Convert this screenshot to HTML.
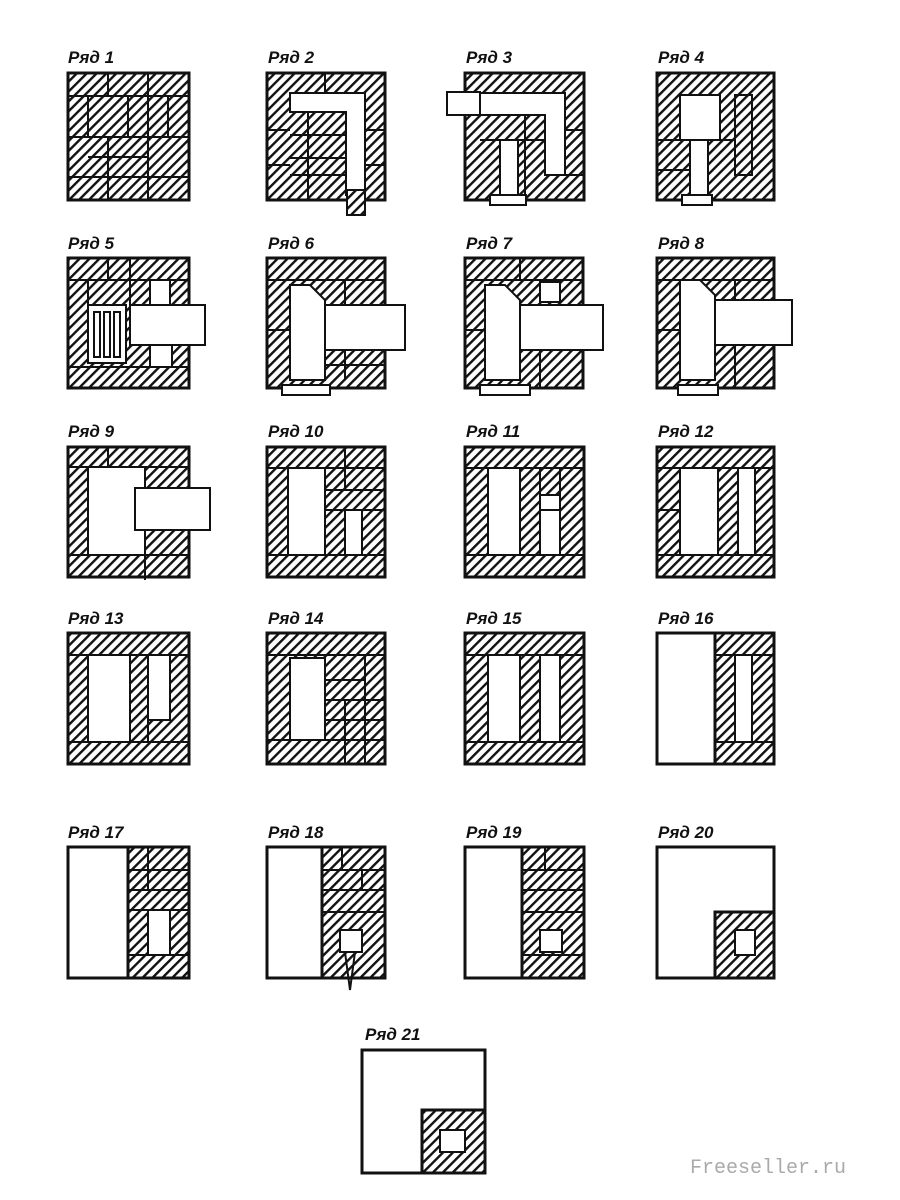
<!DOCTYPE html>
<html><head><meta charset="utf-8"><style>
html,body{margin:0;padding:0;background:#fff;}
svg{display:block}
text{font-family:"Liberation Sans",sans-serif;font-style:italic;font-weight:bold;font-size:17px;fill:#111}
</style></head><body>
<svg width="900" height="1200" viewBox="0 0 900 1200" xmlns="http://www.w3.org/2000/svg">
<defs>
<pattern id="h" patternUnits="userSpaceOnUse" width="7" height="7" patternTransform="rotate(45)">
<rect width="7" height="7" fill="#fff"/><rect x="0" y="0" width="2.4" height="7" fill="#111"/>
</pattern>
</defs>
<g stroke="#111" stroke-width="2">
<!-- Row 1 -->
<rect x="68" y="73" width="121" height="127" fill="url(#h)" stroke-width="3"/>
<path d="M68 96H189M68 137H189M68 177H189M108 73V96M148 73V200M88 96V137M128 96V137M168 96V137M108 137V177M88 157H148M108 177V200" fill="none"/>
<rect x="267" y="73" width="118" height="127" fill="url(#h)" stroke-width="3"/>
<path d="M290 93H365V195H346V112H290Z" fill="#fff"/>
<rect x="347" y="190" width="18" height="25" fill="url(#h)"/>
<path d="M290 135H346M290 158H346M290 175H346M308 112V200M325 93V73M365 93V200M365 130H385M365 165H385M267 130H290M267 165H290" fill="none"/>
<rect x="465" y="73" width="119" height="127" fill="url(#h)" stroke-width="3"/>
<path d="M470 93H565V175H545V115H470Z" fill="#fff"/>
<rect x="447" y="92" width="33" height="23" fill="#fff"/>
<rect x="500" y="140" width="18" height="55" fill="#fff"/>
<rect x="490" y="195" width="36" height="10" fill="#fff"/>
<path d="M480 140H545M525 115V195M565 130H584M545 175H584" fill="none"/>
<rect x="657" y="73" width="117" height="127" fill="url(#h)" stroke-width="3"/>
<rect x="680" y="95" width="40" height="45" fill="#fff"/>
<rect x="690" y="140" width="18" height="55" fill="#fff"/>
<rect x="682" y="195" width="30" height="10" fill="#fff"/>
<path d="M735 95V175H752V95ZM657 140H690M708 140H735M657 170H690" fill="none"/>
<!-- Row 2 -->
<rect x="68" y="258" width="121" height="130" fill="url(#h)" stroke-width="3"/>
<rect x="130" y="305" width="75" height="40" fill="#fff"/>
<rect x="150" y="280" width="20" height="25" fill="#fff"/>
<rect x="150" y="345" width="22" height="22" fill="#fff"/>
<rect x="88" y="305" width="38" height="58" fill="#fff"/>
<path d="M94 312V357H100V312ZM104 312V357H110V312ZM114 312V357H120V312Z" fill="none"/>
<path d="M68 280H189M68 367H189M108 258V280M130 258V305M88 280V305" fill="none"/>
<rect x="267" y="258" width="118" height="130" fill="url(#h)" stroke-width="3"/>
<path d="M290 285H310L325 300V380H290Z" fill="#fff"/>
<rect x="325" y="305" width="80" height="45" fill="#fff"/>
<rect x="282" y="385" width="48" height="10" fill="#fff"/>
<path d="M267 280H385M345 280V305M345 350V380M325 365H385M267 330H290" fill="none"/>
<rect x="465" y="258" width="118" height="130" fill="url(#h)" stroke-width="3"/>
<path d="M485 285H505L520 300V380H485Z" fill="#fff"/>
<rect x="520" y="305" width="83" height="45" fill="#fff"/>
<rect x="540" y="282" width="20" height="20" fill="#fff"/>
<rect x="480" y="385" width="50" height="10" fill="#fff"/>
<path d="M465 280H583M520 280V258M540 350V388M465 330H485" fill="none"/>
<rect x="657" y="258" width="117" height="130" fill="url(#h)" stroke-width="3"/>
<path d="M680 280H700L715 295V380H680Z" fill="#fff"/>
<rect x="715" y="300" width="77" height="45" fill="#fff"/>
<rect x="678" y="385" width="40" height="10" fill="#fff"/>
<path d="M657 280H774M735 280V300M735 345V388M657 330H680" fill="none"/>
<!-- Row 3 -->
<rect x="68" y="447" width="121" height="130" fill="url(#h)" stroke-width="3"/>
<rect x="88" y="467" width="57" height="88" fill="#fff"/>
<rect x="135" y="488" width="75" height="42" fill="#fff"/>
<path d="M145 530V580M68 467H189M68 555H189M108 447V467" fill="none"/>
<rect x="267" y="447" width="118" height="130" fill="url(#h)" stroke-width="3"/>
<rect x="288" y="468" width="37" height="87" fill="#fff"/>
<rect x="345" y="510" width="17" height="45" fill="#fff"/>
<path d="M267 468H385M325 490H385M325 510H385M267 555H385M345 447V490" fill="none"/>
<rect x="465" y="447" width="119" height="130" fill="url(#h)" stroke-width="3"/>
<rect x="488" y="468" width="32" height="87" fill="#fff"/>
<rect x="540" y="495" width="20" height="60" fill="#fff"/>
<path d="M465 468H584M465 555H584M540 468V495M560 468V555M540 510H560" fill="none"/>
<rect x="657" y="447" width="117" height="130" fill="url(#h)" stroke-width="3"/>
<rect x="680" y="468" width="38" height="87" fill="#fff"/>
<rect x="738" y="468" width="17" height="87" fill="#fff"/>
<path d="M657 468H774M657 555H774M657 510H680" fill="none"/>
<!-- Row 4 -->
<rect x="68" y="633" width="121" height="131" fill="url(#h)" stroke-width="3"/>
<rect x="88" y="655" width="42" height="87" fill="#fff"/>
<rect x="148" y="655" width="22" height="65" fill="#fff"/>
<path d="M68 655H189M68 742H189M148 720V742" fill="none"/>
<rect x="267" y="633" width="118" height="131" fill="url(#h)" stroke-width="3"/>
<rect x="290" y="658" width="35" height="82" fill="#fff"/>
<path d="M267 655H385M325 680H365M325 700H385M325 720H385M267 740H385M345 700V764M365 655V764" fill="none"/>
<rect x="465" y="633" width="119" height="131" fill="url(#h)" stroke-width="3"/>
<rect x="488" y="655" width="32" height="87" fill="#fff"/>
<rect x="540" y="655" width="20" height="87" fill="#fff"/>
<path d="M465 655H584M465 742H584" fill="none"/>
<rect x="657" y="633" width="117" height="131" fill="url(#h)" stroke-width="3"/>
<rect x="657" y="633" width="58" height="131" fill="#fff" stroke-width="3"/>
<rect x="735" y="655" width="17" height="87" fill="#fff"/>
<path d="M715 655H774M715 742H774" fill="none"/>
<!-- Row 5 -->
<rect x="68" y="847" width="121" height="131" fill="url(#h)" stroke-width="3"/>
<rect x="68" y="847" width="60" height="131" fill="#fff" stroke-width="3"/>
<rect x="148" y="910" width="22" height="45" fill="#fff"/>
<path d="M128 870H189M128 890H189M128 910H189M128 955H189M148 847V890" fill="none"/>
<rect x="267" y="847" width="118" height="131" fill="url(#h)" stroke-width="3"/>
<rect x="267" y="847" width="55" height="131" fill="#fff" stroke-width="3"/>
<rect x="340" y="930" width="22" height="22" fill="#fff"/>
<path d="M322 870H385M322 890H385M322 912H385M345 952L350 990L355 952M342 847V870M362 870V890" fill="none"/>
<rect x="465" y="847" width="119" height="131" fill="url(#h)" stroke-width="3"/>
<rect x="465" y="847" width="57" height="131" fill="#fff" stroke-width="3"/>
<rect x="540" y="930" width="22" height="22" fill="#fff"/>
<path d="M522 870H584M522 890H584M522 912H584M522 955H584M545 847V870" fill="none"/>
<rect x="657" y="847" width="117" height="131" fill="#fff" stroke-width="3"/>
<rect x="715" y="912" width="59" height="66" fill="url(#h)" stroke-width="3"/>
<rect x="735" y="930" width="20" height="25" fill="#fff"/>
<!-- Row 21 -->
<rect x="362" y="1050" width="123" height="123" fill="#fff" stroke-width="3"/>
<rect x="422" y="1110" width="63" height="63" fill="url(#h)" stroke-width="3"/>
<rect x="440" y="1130" width="25" height="22" fill="#fff"/>
</g>
<text x="68" y="63">Ряд 1</text><text x="268" y="63">Ряд 2</text><text x="466" y="63">Ряд 3</text><text x="658" y="63">Ряд 4</text>
<text x="68" y="249">Ряд 5</text><text x="268" y="249">Ряд 6</text><text x="466" y="249">Ряд 7</text><text x="658" y="249">Ряд 8</text>
<text x="68" y="437">Ряд 9</text><text x="268" y="437">Ряд 10</text><text x="466" y="437">Ряд 11</text><text x="658" y="437">Ряд 12</text>
<text x="68" y="624">Ряд 13</text><text x="268" y="624">Ряд 14</text><text x="466" y="624">Ряд 15</text><text x="658" y="624">Ряд 16</text>
<text x="68" y="838">Ряд 17</text><text x="268" y="838">Ряд 18</text><text x="466" y="838">Ряд 19</text><text x="658" y="838">Ряд 20</text>
<text x="365" y="1040">Ряд 21</text>
<text x="690" y="1173" style="font-family:'Liberation Mono',monospace;font-style:normal;font-weight:normal;font-size:20px;fill:#aaa">Freeseller.ru</text>
</svg>
</body></html>
